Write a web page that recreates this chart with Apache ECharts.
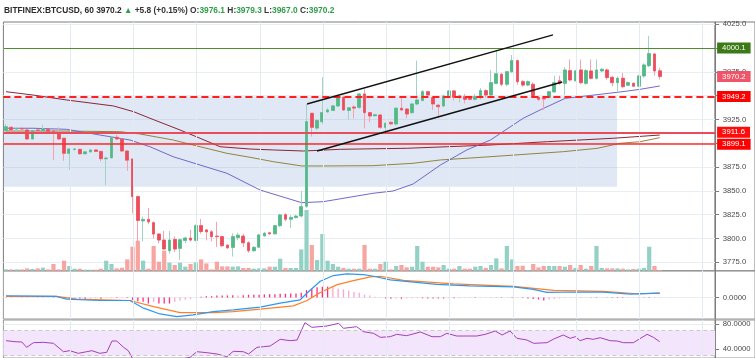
<!DOCTYPE html>
<html><head><meta charset="utf-8">
<script src="https://cdn.jsdelivr.net/npm/echarts@6/dist/echarts.min.js"></script>
<style>html,body{margin:0;padding:0;background:#fff}#c{width:755px;height:358px}</style>
</head><body><div id="c"></div>
<script>
// ---------------- DATA ----------------
const symbolName = 'BITFINEX:BTCUSD, 60';
const changeText = '+5.8 (+0.15%)';
const slotCount = 135;
const opens = [3913.2,3916.8,3915.0,3915.5,3914.0,3904.5,3914.0,3913.0,3914.5,3913.0,
3911.5,3905.3,3889.5,3893.5,3893.7,3889.0,3891.0,3893.0,3891.5,3883.8,
3884.8,3906.3,3904.5,3891.9,3883.5,3844.0,3818.5,3820.0,3816.6,3804.7,
3798.4,3787.2,3799.0,3789.7,3798.0,3800.4,3798.0,3813.5,3809.0,3807.0,
3802.5,3802.0,3793.0,3790.7,3801.0,3802.5,3795.5,3787.2,3791.0,3802.8,
3806.0,3805.0,3813.5,3825.0,3820.3,3822.0,3823.7,3834.0,3931.5,3916.0,
3922.7,3933.0,3934.5,3939.2,3948.3,3934.5,3938.0,3937.8,3951.8,3932.2,
3929.0,3929.7,3916.8,3922.0,3920.3,3936.8,3936.0,3932.2,3941.3,3945.0,
3954.2,3947.9,3940.0,3939.2,3949.7,3955.0,3948.0,3949.0,3947.9,3946.2,
3947.9,3955.3,3950.7,3963.0,3972.5,3962.0,3975.2,3986.8,3964.7,3961.2,
3962.0,3948.3,3947.0,3948.3,3954.0,3965.7,3963.0,3976.3,3965.7,3977.0,
3963.0,3976.0,3968.3,3976.0,3977.0,3969.3,3963.7,3968.3,3961.0,3963.0,
3960.0,3970.7,3981.5,3993.8,3976.1];
const closes = [3917.4,3914.0,3915.5,3915.0,3904.5,3913.3,3913.5,3915.0,3912.5,3912.5,
3904.5,3889.5,3894.0,3894.0,3889.0,3891.0,3893.0,3891.5,3883.8,3884.5,
3906.3,3904.5,3891.9,3882.3,3844.0,3819.0,3820.0,3817.5,3804.7,3798.4,
3789.0,3798.4,3789.0,3798.7,3800.5,3798.4,3813.5,3807.3,3807.0,3802.0,
3802.0,3792.5,3790.3,3802.0,3803.5,3795.5,3787.2,3790.7,3803.7,3805.5,
3805.0,3813.5,3824.7,3820.3,3822.0,3823.5,3833.4,3922.7,3916.8,3924.0,
3932.2,3935.0,3939.3,3948.3,3935.0,3937.3,3937.0,3951.8,3932.2,3928.7,
3930.0,3916.8,3921.0,3920.5,3936.8,3935.0,3930.8,3941.3,3945.5,3954.2,
3950.7,3941.3,3938.5,3949.7,3955.0,3948.3,3950.0,3946.2,3946.2,3949.0,
3955.3,3950.7,3963.7,3973.0,3962.0,3975.2,3986.8,3964.7,3961.2,3964.7,
3949.0,3946.2,3946.5,3954.2,3963.6,3963.0,3977.0,3966.5,3976.0,3963.7,
3976.3,3968.3,3977.0,3977.7,3969.0,3963.7,3968.3,3959.5,3963.7,3960.0,
3970.7,3982.3,3994.2,3976.0,3970.2];
const lows = [3912.6,3911.0,3913.0,3913.0,3903.5,3904.0,3913.0,3912.5,3912.0,3882.5,
3904.0,3881.7,3872.0,3892.5,3888.0,3888.5,3890.5,3891.0,3881.0,3856.0,
3884.0,3904.0,3891.0,3871.0,3826.5,3797.0,3797.0,3815.0,3800.0,3795.0,
3788.0,3784.0,3786.0,3777.5,3795.0,3797.0,3797.0,3805.0,3798.0,3797.0,
3791.0,3791.0,3789.0,3781.0,3798.0,3791.0,3785.0,3786.0,3790.0,3802.0,
3804.0,3804.0,3812.0,3818.0,3811.0,3821.0,3822.0,3832.0,3907.0,3913.6,
3920.0,3932.0,3934.0,3938.0,3934.0,3925.0,3926.0,3936.0,3915.8,3922.0,
3928.0,3915.0,3912.2,3919.0,3919.0,3934.0,3926.3,3931.0,3940.0,3944.0,
3948.0,3935.0,3927.0,3938.0,3947.5,3945.0,3943.0,3942.0,3945.0,3945.0,
3946.0,3948.0,3949.0,3962.0,3960.0,3960.0,3974.0,3961.5,3959.5,3960.0,
3947.3,3944.5,3935.0,3947.0,3953.0,3961.5,3950.7,3965.0,3965.0,3962.0,
3961.5,3967.0,3967.0,3975.0,3966.8,3960.0,3953.0,3958.0,3960.0,3959.0,
3959.0,3969.0,3980.0,3971.0,3967.0];
const highs = [3920.3,3918.0,3917.0,3917.5,3915.0,3914.0,3915.0,3919.5,3915.0,3914.0,
3916.8,3905.5,3894.5,3895.0,3894.0,3892.0,3893.5,3893.5,3892.0,3886.0,
3907.0,3908.7,3905.0,3892.5,3884.0,3845.0,3823.0,3832.0,3818.0,3805.5,
3808.0,3808.0,3802.0,3800.0,3802.0,3809.0,3815.0,3820.5,3810.0,3809.0,
3817.5,3803.0,3794.0,3805.5,3806.0,3805.0,3797.0,3792.0,3805.0,3807.0,
3807.0,3814.5,3826.0,3826.5,3824.5,3825.0,3850.0,3941.3,3932.0,3925.0,
3969.3,3937.0,3940.0,3951.0,3950.0,3938.0,3940.0,3953.0,3956.7,3933.0,
3931.0,3931.0,3922.0,3923.0,3938.0,3947.3,3937.0,3942.5,3986.8,3956.0,
3955.0,3949.0,3941.0,3951.0,3956.0,3956.0,3951.0,3951.8,3949.0,3952.0,
3958.0,3956.6,3977.0,3998.0,3974.0,3976.0,3992.8,3988.0,3966.5,3966.0,
3964.0,3949.0,3948.0,3955.0,3971.0,3971.0,3980.0,3988.0,3977.0,3988.0,
3978.0,3988.0,3988.0,3979.0,3978.5,3971.0,3970.0,3974.0,3965.0,3964.0,
3972.0,3984.0,4012.7,3994.5,3979.3];
const volumes = [1.3,1.3,1.3,1.3,2.3,1.7,2.3,3,1.3,6.7,
1.3,10,4.7,2,2,1,1,1,2,10,
6.7,2.3,3,11.3,24,30,10,2,24.7,9,
20,8,5.7,8,4,6.7,8.3,11.3,7.3,1.3,
9,4.3,4.3,4,4.3,2.7,2.7,2,2.3,2.3,
4,4,12,2.7,2.7,2.7,21.3,60.7,25.7,10.7,
36.7,10,6.7,4,2.7,2,2,2,25.7,2,
2,6.7,9,1.3,4.7,5.7,3.3,4,24.7,9,
4,4,3.3,5.7,2,2,4.7,2,2,4,
4.7,2.7,5.7,12.3,2.3,24.7,11.3,4.7,5,0.7,
6.7,3.3,4.7,4.7,4.7,4.7,4,5.7,2.7,5.7,
2,4.7,24.7,2.7,2.3,2.3,2.3,2,1.3,1.7,
2,2.7,24,4.7,0.7];
// moving averages: [bar position, price]
const maFast = [[0,3915.8],[5.1,3915.8],[11.5,3914.7],[17.8,3908.7],[23.5,3903.5],[27.3,3896.4],[31.7,3885.9],[36.8,3877.2],[41.9,3868.5],[46.3,3856.2],[48.2,3850.9],[56.1,3837.6],[60.2,3838.7],[69.6,3847.5],[73.4,3849.9],[77.2,3857.2],[82.4,3877.2],[87.4,3893.0],[91.9,3903.5],[93.8,3910.5],[98.1,3926.3],[101.3,3935.0],[106.1,3947.3],[108.9,3949.0],[116.5,3953.9],[120.3,3956.7],[124,3960.2]];
const maMid = [[0,3912.9],[10.3,3912.9],[21.6,3912.2],[25.4,3909.8],[31.7,3903.5],[36.8,3896.4],[41.9,3889.5],[46.3,3885.3],[50.7,3880.7],[56.1,3876.2],[60.2,3876.2],[69.6,3876.5],[77.2,3879.0],[82.4,3882.5],[91.8,3885.9],[99.4,3888.8],[105.7,3891.2],[112.1,3894.7],[116.5,3900.0],[120.3,3901.7],[124,3905.9]];
const maSlow = [[0,3954.2],[5.1,3950.7],[11.5,3945.5],[20.4,3939.2],[24.2,3933.2],[27.3,3926.3],[33,3914.0],[36.8,3905.3],[40.6,3896.4],[46.3,3894.0],[50.7,3893.0],[56.4,3891.9],[63.4,3893.7],[76.1,3894.8],[83.7,3896.4],[91.8,3898.2],[102.7,3901.7],[115.2,3905.3],[124,3908.7]];
const channelUpper = [[57.1,3941.3],[103.75,4013.8]];
const channelLower = [[59.0,3891.9],[105.5,3964.4]];
const zoneBox = [[-0.5,3949.2],[115.9,3854.4]];
const levelValues = [4000.1, 3949.2, 3911.6, 3899.1];
const lastPrice = 3970.2;
const priceTicks = [3775,3800,3825,3850,3875,3900,3925,3950,3975,4000,4025];
const vGridAt = [12.15,24.15,36.15,48.15,60.15,72.15,84.15,96.15,108.15,120.15,132.15];
// MACD
const macdLine = [[0,1.7],[9.6,1.0],[11.5,-1.6],[17.8,-3],[23.5,-3],[26.1,-10.6],[29.2,-16.3],[32.4,-19],[35.5,-17.3],[39.3,-14],[43.1,-12.3],[48.2,-9.6],[52,-5.6],[55.8,-2.3],[57.1,4.4],[59.6,16],[62.1,21.7],[64.6,23.4],[67.8,22.7],[69.7,21],[72.9,17.5],[81.7,13],[88,11.5],[96.3,10.4],[100,8],[102.6,5],[108.3,5.4],[113.3,5.3],[118.4,3.4],[124,4.4]];
const signalLine = [[0,1],[9.6,1],[13.4,-1.6],[23.5,-3],[28,-9],[33,-15],[39.3,-15],[43.1,-14],[48.2,-11.6],[54.5,-8.3],[57.1,-3],[59.6,5],[62.8,12.7],[65.9,16.7],[69.1,20.4],[71,21],[75.4,17],[84.9,13.4],[96.3,11],[103.9,7],[113.3,6],[119.7,3.7],[124,4.4]];
const macdHist = [0.3,0.3,0.2,0.2,-0.3,-0.2,0.2,0.3,0.2,-0.4,
-0.5,-0.8,-1,-0.8,-1,-1.2,-1,-0.8,-1.3,-0.6,
0.4,0.5,0.3,-0.6,-2.3,-3.7,-4.3,-6,-4.3,-6,
-6,-6,-4.3,-3,-2.3,-1.3,-0.3,0.7,1.3,1.3,
2,2,2,2.3,2,2.3,2.7,2.7,2.7,3,
3.3,3.3,3.7,3.7,4,4,4.7,7.3,9,10,
10.7,10.7,10,9,8,6.7,5.3,4.7,2.7,2,
0.7,-0.5,-1,-1.2,-1,-1.3,-1,-0.8,-0.5,-0.8,
-1,-1,-1,-1,-0.8,-0.8,-0.7,-0.6,-0.5,-0.5,
-0.3,-0.2,0.2,0.3,0.5,0.3,0.5,0.2,-0.5,-1,
-1.5,-2,-3,-2,-1.5,-1,-0.5,-0.3,0.2,0.3,
0.2,0.3,0.5,0.3,-0.3,-0.5,-0.6,-0.6,-0.5,-0.3,
-0.3,0.3,0.5,0.4,0.2];
const macdTicks = [0];
// RSI
const rsiLine = [[0,53.8],[1.7,52.2],[3,51.7],[3.9,43.2],[5.2,50.6],[7.1,51.2],[9,49.6],[10.9,36.2],[12.1,37.8],[13.7,33.6],[15.3,36.2],[16.3,37.8],[17.8,33.6],[19.1,35.2],[20.1,53.3],[21,53.3],[22.3,43.2],[23.2,37.8],[24.2,22],[25.5,16],[27,19],[28.5,17],[30,15],[31.5,20],[33,24],[34.9,27.2],[36.2,36.2],[38.1,34.6],[40,32.5],[41.9,28.2],[43.1,36.8],[45,36.2],[46,32.5],[47.6,43.2],[48.8,44.2],[50.1,45.3],[52,56],[53.9,53.8],[55.2,54.9],[56.7,82.6],[58,75.2],[60.9,77.3],[63.1,81.6],[64,73.6],[66.5,76.2],[67.8,68.2],[69.7,65.6],[71,59.2],[72.9,60.2],[74.1,64],[76,61.8],[78.6,67.7],[80.8,60.2],[82.4,60.2],[83.6,65.6],[85.5,61.3],[87.4,61.3],[89.3,61.3],[90.9,64],[92.8,69.3],[94.1,62.9],[95.6,69.3],[96.9,57.6],[98.8,54.9],[100.1,49.6],[102.6,50.6],[103.9,56.5],[105.7,62.9],[107,57.6],[108,60.2],[108.9,53.8],[110.2,57.6],[111.4,56],[112.7,58.6],[114.6,53.8],[115.9,53.3],[117.1,50.6],[119,50.6],[121.6,64],[122.8,59.2],[124,52.2]];
const rsiBand = [70, 30];
const rsiTicks = [40, 80];

// ---------------- CHART ----------------
const FONT = '"Liberation Sans", Arial, sans-serif';
const FS = 7.7;
const TFS = 8.4;
const upC = '#53b987', dnC = '#eb4d5c', upWick = '#a3d3c3', dnWick = '#f4a3ad';
const volUp = '#93d1c5', volDn = '#f6a5a1';
const cats = Array.from({length: slotCount}, (_, i) => String(i));
const last = opens.length - 1;
const candleFull = opens.map((o, i) => [o, closes[i], lows[i], highs[i]]);
const candleBody = opens.map((o, i) => [o, closes[i], Math.min(o, closes[i]), Math.max(o, closes[i])]);
const volData = volumes.map((v, i) => ({value: v, itemStyle: {color: closes[i] >= opens[i] ? volUp : volDn}}));
const histData = macdHist.map((v, i) => {
  const grow = i === 0 || Math.abs(v) >= Math.abs(macdHist[i - 1]);
  return {value: v, itemStyle: {color: grow ? '#ff2d78' : '#f8a9c8'}};
});
const vLines = vGridAt.map(v => ({xAxis: v}));
const vGridStyle = {color: '#e3eaf1', width: 1, type: 'solid'};
const labelBase = {show: true, position: 'end', distance: 2, color: '#fff', fontSize: FS, fontFamily: FONT,
  padding: [2, 5, 1, 5], formatter: p => Number(p.value).toFixed(1)};
const gl = {left: 3.4, width: 711.7};
const axisCol = '#7c7c7c';
function yAxisCommon(grid, min, max, ticks, digits) {
  return {type: 'value', gridIndex: grid, position: 'right', min: min, max: max,
    axisLine: {show: true, onZero: false, lineStyle: {color: axisCol}},
    axisTick: {show: true, length: 4, customValues: ticks, lineStyle: {color: axisCol}},
    axisLabel: {customValues: ticks, formatter: v => Number(v).toFixed(digits), margin: 7.6,
      fontSize: FS, fontFamily: FONT, color: '#4a4a4a'},
    splitLine: {show: true, lineStyle: {color: '#e9eef4'}}};
}
const f = v => v.toFixed(1);
const titleText = `{s|${symbolName} ${f(closes[last])}} {g|▲} {n|${changeText}} {n|O:}{g|${f(opens[last])}} {n|H:}{g|${f(highs[last])}} {n|L:}{g|${f(lows[last])}} {n|C:}{g|${f(closes[last])}}`;
// frame strips right of the price scale (pane borders continue to the edge)
const frame = {left: 715.1, width: 45};
const panes = [{top: 22, height: 248.7, c: axisCol}, {top: 271, height: 48, c: '#999'}, {top: 320, height: 38, c: '#999'}];

const option = {
  animation: false,
  backgroundColor: '#ffffff',
  title: {left: 4, top: 7, padding: 0, text: titleText, textStyle: {fontSize: TFS, fontFamily: FONT, rich: {
    s: {fontSize: TFS, fontFamily: FONT, color: '#2b2b2b', fontWeight: 'bold'},
    n: {fontSize: TFS, fontFamily: FONT, color: '#333'},
    g: {fontSize: TFS, fontFamily: FONT, color: '#2e9f4a'}}}},
  grid: panes.map(p => Object.assign({top: p.top, height: p.height, show: true, borderColor: p.c, borderWidth: 1}, gl))
    .concat(panes.map(p => Object.assign({top: p.top, height: p.height, show: true, borderColor: p.c, borderWidth: 1}, frame))),
  xAxis: [
    {type: 'category', gridIndex: 0, data: cats, boundaryGap: true, show: false},
    {type: 'value', gridIndex: 0, min: -0.5, max: slotCount - 0.5, show: false},
    {type: 'category', gridIndex: 1, data: cats, boundaryGap: true, show: false},
    {type: 'value', gridIndex: 1, min: -0.5, max: slotCount - 0.5, show: false},
    {type: 'value', gridIndex: 2, min: -0.5, max: slotCount - 0.5, show: false},
    {type: 'value', gridIndex: 3, show: false},
    {type: 'value', gridIndex: 4, show: false},
    {type: 'value', gridIndex: 5, show: false}
  ],
  yAxis: [
    yAxisCommon(0, 3766.2, 4027.4, priceTicks, 1),
    {type: 'value', gridIndex: 0, min: 0, max: 248.7, show: false},
    yAxisCommon(1, -21.3, 26.2, macdTicks, 4),
    yAxisCommon(2, 26.1, 86.9, rsiTicks, 4),
    {type: 'value', gridIndex: 3, show: false},
    {type: 'value', gridIndex: 4, show: false},
    {type: 'value', gridIndex: 5, show: false}
  ],
  series: [
    {type: 'line', xAxisIndex: 1, yAxisIndex: 0, data: [], z: 0, silent: true,
      markArea: {silent: true, itemStyle: {color: 'rgba(120,160,210,0.24)'},
        data: [[{coord: zoneBox[0]}, {coord: zoneBox[1]}]]},
      markLine: {silent: true, symbol: ['none', 'none'], label: {show: false}, lineStyle: vGridStyle, data: vLines}},
    {type: 'bar', xAxisIndex: 0, yAxisIndex: 1, data: volData, barWidth: 4.2, z: 1, silent: true},
    {type: 'line', xAxisIndex: 1, yAxisIndex: 0, data: maSlow, symbol: 'none', z: 2,
      lineStyle: {color: '#8d2535', width: 1}},
    {type: 'line', xAxisIndex: 1, yAxisIndex: 0, data: maMid, symbol: 'none', z: 2,
      lineStyle: {color: '#94843f', width: 1}},
    {type: 'line', xAxisIndex: 1, yAxisIndex: 0, data: maFast, symbol: 'none', z: 2,
      lineStyle: {color: '#7468c9', width: 1}},
    {type: 'candlestick', xAxisIndex: 0, yAxisIndex: 0, data: candleFull, barWidth: 3.2, z: 3, silent: true,
      itemStyle: {color: upWick, color0: dnWick, borderColor: upWick, borderColor0: dnWick, borderColorDoji: dnWick, borderWidth: 1}},
    {type: 'candlestick', xAxisIndex: 0, yAxisIndex: 0, data: candleBody, barWidth: 3.2, z: 4, silent: true,
      itemStyle: {color: upC, color0: dnC, borderColor: upC, borderColor0: dnC, borderColorDoji: dnC, borderWidth: 0.6}},
    {type: 'line', xAxisIndex: 1, yAxisIndex: 0, data: channelUpper, symbol: 'none', z: 5,
      lineStyle: {color: '#111', width: 1.4}},
    {type: 'line', xAxisIndex: 1, yAxisIndex: 0, data: channelLower, symbol: 'none', z: 5,
      lineStyle: {color: '#111', width: 1.4}},
    {type: 'line', xAxisIndex: 1, yAxisIndex: 0, data: [], z: 6, silent: true,
      markLine: {silent: true, symbol: ['none', 'none'], label: labelBase, data: [
        {yAxis: levelValues[0], lineStyle: {color: '#4f8e2e', width: 1.2, type: 'solid'}, label: {backgroundColor: '#3b7a17'}},
        {yAxis: levelValues[1], lineStyle: {color: '#ff1f1f', width: 1.8, type: [7, 4]}, label: {backgroundColor: '#ff0000'}},
        {yAxis: levelValues[2], lineStyle: {color: '#e94c5b', width: 2, type: 'solid'}, label: {backgroundColor: '#ff0d0d'}},
        {yAxis: levelValues[3], lineStyle: {color: '#ff2a2a', width: 1.5, type: 'solid'}, label: {backgroundColor: '#ff0000'}},
        {yAxis: lastPrice, lineStyle: {color: 'rgba(0,0,0,0)', width: 0}, label: {backgroundColor: '#ef5468'}}
      ]}},
    // MACD pane
    {type: 'line', xAxisIndex: 3, yAxisIndex: 2, data: [], z: 0, silent: true,
      markLine: {silent: true, symbol: ['none', 'none'], label: {show: false}, lineStyle: vGridStyle, data: vLines}},
    {type: 'bar', xAxisIndex: 2, yAxisIndex: 2, data: histData, barWidth: 1.3, z: 1, silent: true},
    {type: 'line', xAxisIndex: 3, yAxisIndex: 2, data: signalLine, symbol: 'none', z: 2,
      lineStyle: {color: '#ff7f2a', width: 1.2}},
    {type: 'line', xAxisIndex: 3, yAxisIndex: 2, data: macdLine, symbol: 'none', z: 3,
      lineStyle: {color: '#2f98ee', width: 1.2}},
    // RSI pane
    {type: 'line', xAxisIndex: 4, yAxisIndex: 3, data: [], z: 0, silent: true,
      markArea: {silent: true, itemStyle: {color: '#f3e6fc'}, data: [[{yAxis: rsiBand[0]}, {yAxis: rsiBand[1]}]]},
      markLine: {silent: true, symbol: ['none', 'none'], label: {show: false}, data:
        vLines.map(d => Object.assign({lineStyle: vGridStyle}, d)).concat(
          rsiBand.map(v => ({yAxis: v, lineStyle: {color: '#c9c9c9', width: 1, type: [4, 3]}})))}},
    {type: 'line', xAxisIndex: 4, yAxisIndex: 3, data: rsiLine, symbol: 'none', z: 2,
      lineStyle: {color: '#a43fb9', width: 1}}
  ]
};
echarts.init(document.getElementById('c')).setOption(option);
</script>
</body></html>
